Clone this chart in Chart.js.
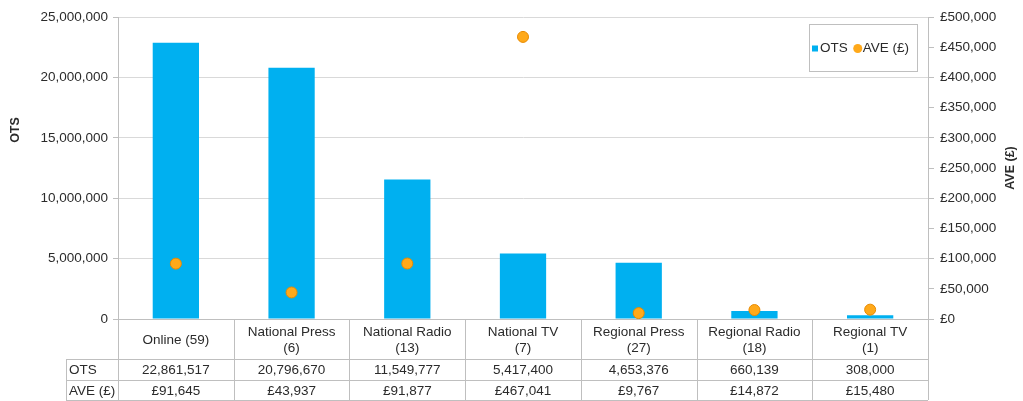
<!DOCTYPE html>
<html lang="en">
<head>
    <meta charset="UTF-8">
    <title>OTS and AVE by media type</title>
    <script src="https://cdn.jsdelivr.net/npm/chart.js"></script>
    <style>
        html, body { margin: 0; padding: 0; background: #fff; }
        #chart { display: block; }
    </style>
</head>
<body>
<canvas id="chart" width="1023" height="401"></canvas>

<script>
    const categories = [
        ['Online (59)'],
        ['National Press', '(6)'],
        ['National Radio', '(13)'],
        ['National TV', '(7)'],
        ['Regional Press', '(27)'],
        ['Regional Radio', '(18)'],
        ['Regional TV', '(1)']
    ];
    const otsValues = [22861517, 20796670, 11549777, 5417400, 4653376, 660139, 308000];
    const aveValues = [91645, 43937, 91877, 467041, 9767, 14872, 15480];
    const otsTicks = { min: 0, max: 25000000, step: 5000000 };
    const aveTicks = { min: 0, max: 500000, step: 50000 };

    const FONT = 'Liberation Sans, Arial, sans-serif';
    const TEXT = '#2b2b2b';
    const LINE = '#bfbfbf';
    const GRID = '#d9d9d9';

    const fmt = v => v.toLocaleString('en-GB');
    const money = v => '£' + v.toLocaleString('en-GB');

    // draws the data table under the plot, the legend box and the axis titles
    const tablePlugin = {
        id: 'tablePlugin',
        afterDraw(chart) {
            const c = chart.ctx;
            const area = chart.chartArea;
            const xs = chart.scales.x;
            const n = categories.length;
            const colW = (area.right - area.left) / n;
            const top = area.bottom;
            const row1 = top + 40, row2 = row1 + 21, row3 = row2 + 20;
            const labelLeft = 66;

            c.save();
            c.strokeStyle = LINE;
            c.lineWidth = 1;
            c.beginPath();
            // horizontal lines
            c.moveTo(area.left, top + 0.5); c.lineTo(area.right, top + 0.5);
            [row1, row2, row3].forEach(y => {
                c.moveTo(labelLeft, y + 0.5); c.lineTo(area.right, y + 0.5);
            });
            // vertical lines
            for (let i = 0; i <= n; i++) {
                const x = Math.round(area.left + i * colW) + 0.5;
                c.moveTo(x, top); c.lineTo(x, row3);
            }
            c.moveTo(labelLeft + 0.5, row1); c.lineTo(labelLeft + 0.5, row3);
            c.stroke();

            c.fillStyle = TEXT;
            c.font = '13.5px ' + FONT;
            c.textBaseline = 'middle';
            c.textAlign = 'center';
            categories.forEach((lab, i) => {
                const cx = xs.getPixelForValue(i);
                const mid = (top + row1) / 2 + 1;
                lab.forEach((t, k) => {
                    c.fillText(t, cx, mid + (k - (lab.length - 1) / 2) * 16);
                });
                c.fillText(fmt(otsValues[i]), cx, (row1 + row2) / 2 + 1);
                c.fillText(money(aveValues[i]), cx, (row2 + row3) / 2 + 1);
            });
            c.textAlign = 'left';
            c.fillText('OTS', labelLeft + 3, (row1 + row2) / 2 + 1);
            c.fillText('AVE (£)', labelLeft + 3, (row2 + row3) / 2 + 1);

            // legend box
            const bx = 809, by = 24, bw = 108, bh = 47;
            c.fillStyle = '#fff';
            c.fillRect(bx, by, bw, bh);
            c.strokeRect(bx + 0.5, by + 0.5, bw, bh);
            const ly = by + bh / 2 + 1;
            const ds = chart.data.datasets;
            const bar = ds.find(d => d.type === 'bar');
            const pts = ds.find(d => d.type === 'line');
            c.fillStyle = bar.backgroundColor;
            c.fillRect(bx + 3, ly - 3, 6, 6);
            c.fillStyle = TEXT;
            c.fillText(bar.label, bx + 11, ly);
            const w1 = c.measureText(bar.label).width;
            c.beginPath();
            c.arc(bx + 16 + w1 + 5, ly, 4.5, 0, Math.PI * 2);
            c.fillStyle = pts.pointBackgroundColor;
            c.fill();
            c.fillStyle = TEXT;
            c.fillText(pts.label, bx + 16 + w1 + 10, ly);

            // axis titles, both reading upwards
            c.font = 'bold 12.5px ' + FONT;
            c.textAlign = 'center';
            c.save();
            c.translate(16, 130);
            c.rotate(-Math.PI / 2);
            c.fillText('OTS', 0, 0);
            c.restore();
            c.translate(1011, (area.top + area.bottom) / 2);
            c.rotate(-Math.PI / 2);
            c.fillText('AVE (£)', 0, 0);
            c.restore();
        }
    };

    const ctx = document.getElementById('chart').getContext('2d');
    new Chart(ctx, {
        data: {
            labels: categories.map(l => l.join(' ')),
            datasets: [
                {
                    type: 'line',
                    label: 'AVE (£)',
                    data: aveValues,
                    yAxisID: 'y1',
                    showLine: false,
                    pointRadius: 5.5,
                    pointBackgroundColor: '#ffa91a',
                    pointBorderColor: '#e88a00',
                    pointBorderWidth: 1,
                    order: 0
                },
                {
                    type: 'bar',
                    label: 'OTS',
                    data: otsValues,
                    yAxisID: 'y',
                    backgroundColor: '#00b0f0',
                    barPercentage: 0.4,
                    categoryPercentage: 1,
                    order: 1
                }
            ]
        },
        options: {
            responsive: false,
            animation: false,
            layout: { padding: { top: 17, bottom: 82, left: 0, right: 0 } },
            plugins: {
                legend: { display: false },
                tooltip: { enabled: false }
            },
            scales: {
                x: {
                    display: false,
                    offset: true
                },
                y: {
                    position: 'left',
                    min: otsTicks.min,
                    max: otsTicks.max,
                    ticks: {
                        stepSize: otsTicks.step,
                        color: TEXT,
                        font: { family: FONT, size: 13.5 },
                        padding: 5,
                        callback: v => fmt(v)
                    },
                    grid: { color: GRID, tickLength: 5, tickColor: LINE },
                    border: { color: LINE },
                    afterFit: s => { s.width = 118; }
                },
                y1: {
                    position: 'right',
                    min: aveTicks.min,
                    max: aveTicks.max,
                    ticks: {
                        stepSize: aveTicks.step,
                        color: TEXT,
                        font: { family: FONT, size: 13.5 },
                        padding: 6,
                        callback: v => money(v)
                    },
                    grid: { drawOnChartArea: false, tickLength: 6, color: LINE },
                    border: { color: LINE },
                    afterFit: s => { s.width = 95; }
                }
            }
        },
        plugins: [tablePlugin]
    });
</script>
</body>
</html>
